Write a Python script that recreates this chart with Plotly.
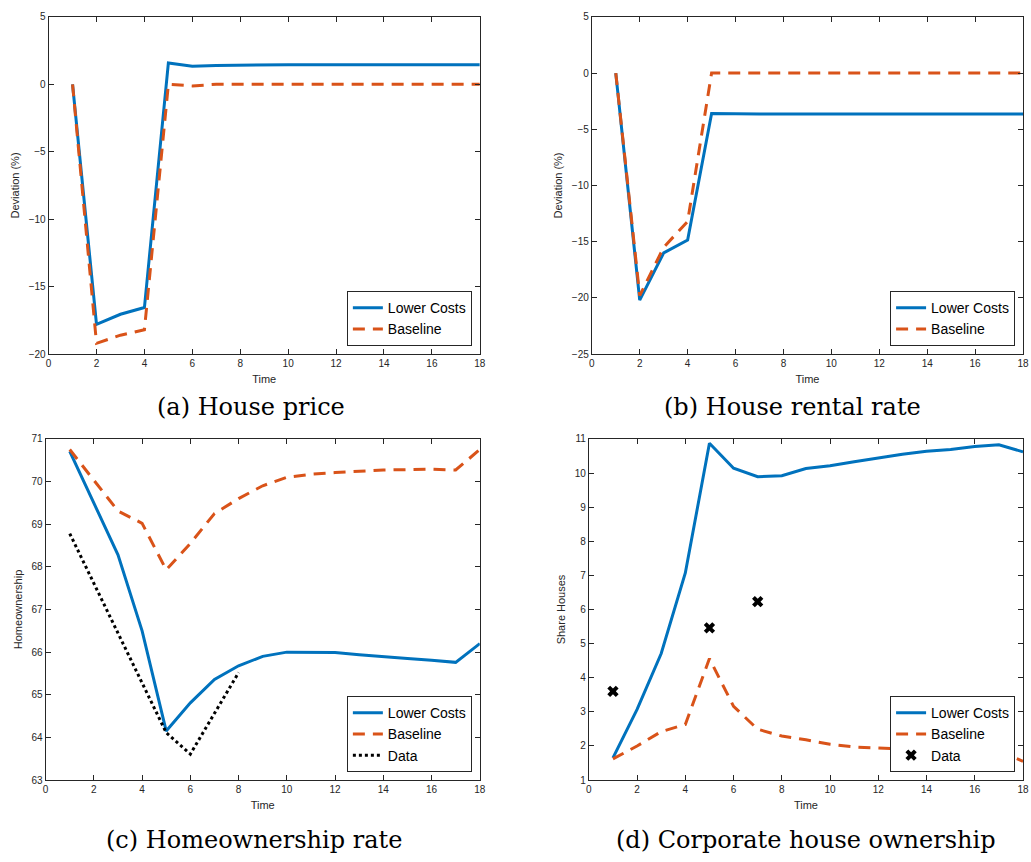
import plotly.graph_objects as go

# ---- data -------------------------------------------------------------
time = list(range(1, 19))

# (a) House price, deviation (%)
price_lower = [0, -17.8, -17.05, -16.55, 1.58, 1.34, 1.4, 1.43, 1.45, 1.45,
               1.45, 1.45, 1.45, 1.45, 1.45, 1.45, 1.45, 1.45]
price_base = [0, -19.2, -18.6, -18.2, 0, -0.12, 0, 0, 0, 0,
              0, 0, 0, 0, 0, 0, 0, 0]

# (b) House rental rate, deviation (%)
rent_lower = [0, -20.2, -16.0, -14.85, -3.6, -3.65, -3.65, -3.65, -3.65, -3.65,
              -3.65, -3.65, -3.65, -3.65, -3.65, -3.65, -3.65, -3.65]
rent_base = [0, -19.8, -15.5, -13.2, 0, 0, 0, 0, 0, 0,
             0, 0, 0, 0, 0, 0, 0, 0]

# (c) Homeownership rate
own_lower = [70.71, 69.5, 68.28, 66.5, 64.15, 64.81, 65.36, 65.68, 65.9, 66.0,
             66.0, 65.99, 65.94, 65.89, 65.85, 65.81, 65.76, 66.2]
own_base = [70.75, 70.03, 69.31, 69.02, 67.93, 68.55, 69.25, 69.6, 69.9, 70.1,
            70.17, 70.21, 70.24, 70.27, 70.28, 70.29, 70.27, 70.75]
own_data_t = [1, 5, 6, 8]
own_data = [68.78, 64.11, 63.61, 65.52]

# (d) Corporate house ownership, share of houses
corp_lower = [1.65, 3.07, 4.71, 7.07, 10.87, 10.14, 9.89, 9.92, 10.13, 10.21,
              10.33, 10.45, 10.55, 10.64, 10.69, 10.78, 10.83, 10.62]
corp_base = [1.62, 2.0, 2.42, 2.63, 4.56, 3.16, 2.49, 2.29, 2.18, 2.05,
             1.97, 1.93, 1.91, 1.89, 1.87, 1.86, 1.85, 1.55]
corp_data_t = [1, 5, 7]
corp_data = [3.6, 5.46, 6.23]

captions = ["(a) House price", "(b) House rental rate",
            "(c) Homeownership rate", "(d) Corporate house ownership"]

# ---- styling ------------------------------------------------------------
W, H = 1031, 862
BLUE = "#0072BD"
ORANGE = "#D95319"
AXC = "#262626"
SANS = "Liberation Sans, Arial, Helvetica, sans-serif"
SERIF = "DejaVu Serif, Liberation Serif, serif"


def px_x(p):
    return p / W


def px_y(p):
    return 1 - p / H


# plot-area boxes in pixels: left, right, top, bottom
boxes = [
    (46, 481, 11, 353),
    (594, 1029, 11, 353),
    (43, 481, 439, 785),
    (591, 1029, 439, 785),
]
yranges = [(-20, 5), (-25, 5), (63, 71), (1, 11)]
ytitles = ["Deviation (%)", "Deviation (%)", "Homeownership", "Share Houses"]
ydticks = [5, 5, 1, 1]

fig = go.Figure()

series = [
    (price_lower, price_base, None, None),
    (rent_lower, rent_base, None, None),
    (own_lower, own_base, (own_data_t, own_data), "line"),
    (corp_lower, corp_base, (corp_data_t, corp_data), "marker"),
]

for i, (low, base, extra, kind) in enumerate(series):
    k = "" if i == 0 else str(i + 1)
    xa, ya = "x" + k, "y" + k
    leg = "legend" + k
    fig.add_trace(go.Scatter(x=time, y=low, mode="lines", name="Lower Costs",
                             line=dict(color=BLUE, width=3),
                             xaxis=xa, yaxis=ya, legend=leg))
    fig.add_trace(go.Scatter(x=time, y=base, mode="lines", name="Baseline",
                             line=dict(color=ORANGE, width=3, dash="12px,8px"),
                             xaxis=xa, yaxis=ya, legend=leg))
    if extra is not None:
        if kind == "line":
            fig.add_trace(go.Scatter(x=extra[0], y=extra[1], mode="lines", name="Data",
                                     line=dict(color="black", width=3, dash="dot"),
                                     xaxis=xa, yaxis=ya, legend=leg))
        else:
            fig.add_trace(go.Scatter(x=extra[0], y=extra[1], mode="markers", name="Data",
                                     marker=dict(color="black", symbol="x", size=10),
                                     xaxis=xa, yaxis=ya, legend=leg))

    l, r, t, b = boxes[i]
    axis_common = dict(showline=True, linecolor=AXC, linewidth=1, mirror="ticks",
                       ticks="inside", ticklen=5, tickcolor=AXC, showgrid=False,
                       zeroline=False, tickfont=dict(family=SANS, size=10, color=AXC))
    fig.layout["xaxis" + k] = dict(
        domain=[px_x(l), px_x(r)], anchor=ya, range=[0, 18], dtick=2, tick0=0,
        title=dict(text="Time", font=dict(family=SANS, size=11, color=AXC), standoff=7),
        **axis_common)
    fig.layout["yaxis" + k] = dict(
        domain=[px_y(b), px_y(t)], anchor=xa, range=list(yranges[i]), dtick=ydticks[i],
        title=dict(text=ytitles[i], font=dict(family=SANS, size=11, color=AXC), standoff=6),
        **axis_common)

    fig.layout[leg] = dict(
        x=px_x(r - 8), y=px_y(b - 8), xanchor="right", yanchor="bottom",
        bgcolor="white", bordercolor=AXC, borderwidth=1,
        font=dict(family=SANS, size=14, color="black"),
        tracegroupgap=0, itemwidth=30,
    )

# captions under each panel
cap_pos = [(250, 407), (796, 407), (253, 846), (810, 846)]
for text, (cx, cy) in zip(captions, cap_pos):
    fig.add_annotation(text=text, x=px_x(cx), y=px_y(cy), xref="paper", yref="paper",
                       showarrow=False, xanchor="center", yanchor="middle",
                       font=dict(family=SERIF, size=24, color="black"))

fig.update_layout(width=W, height=H, margin=dict(l=0, r=0, t=0, b=0),
                  paper_bgcolor="white", plot_bgcolor="white", showlegend=True)

fig.write_html("out.html")
